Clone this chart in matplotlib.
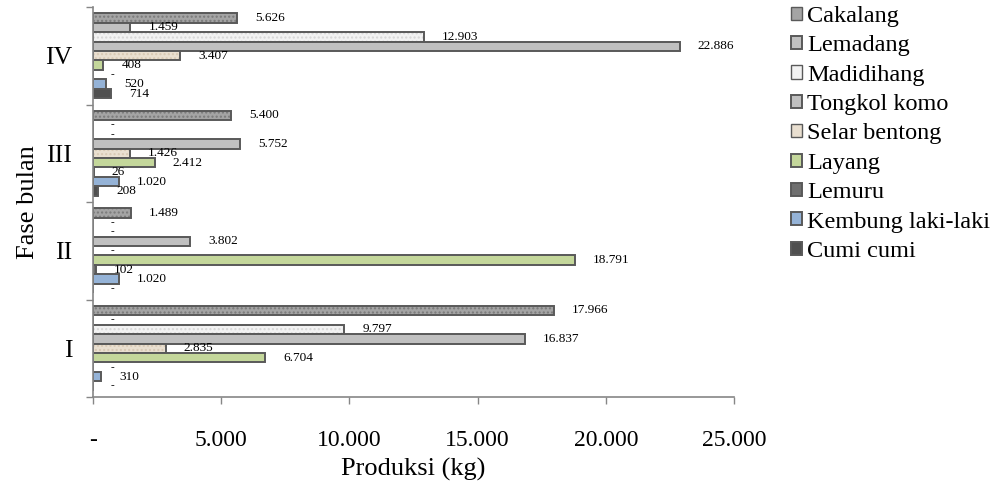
import matplotlib.pyplot as plt
import numpy as np

plt.rcParams["font.family"] = ["Liberation Serif", "DejaVu Serif"]

phases = ["I", "II", "III", "IV"]
species = ["Cakalang", "Lemadang", "Madidihang", "Tongkol komo", "Selar bentong",
           "Layang", "Lemuru", "Kembung laki-laki", "Cumi cumi"]

# produksi (kg) per fase bulan I..IV
cakalang = [17966, 1489, 5400, 5626]
lemadang = [0, 0, 0, 1459]
madidihang = [9797, 0, 0, 12903]
tongkol = [16837, 3802, 5752, 22886]
selar = [2835, 0, 1426, 3407]
layang = [6704, 18791, 2412, 408]
lemuru = [0, 102, 26, 0]
kembung = [310, 1020, 1020, 520]
cumi = [0, 0, 208, 714]

series = [cakalang, lemadang, madidihang, tongkol, selar, layang, lemuru, kembung, cumi]
colors = ["#a4a4a4", "#c0c0c0", "#f2f2f2", "#c0c0c0", "#e9dfd0",
          "#c4d79b", "#6f6f6f", "#95b3d7", "#4f4f4f"]
hatches = ["....", None, "....", None, "....", None, None, None, None]
hatch_cols = ["#7a7a7a", None, "#d6d6d6", None, "#d8c9b4", None, None, None, None]
edge = "#595959"

fig = plt.figure(figsize=(9.98, 4.83), dpi=100)
ax = fig.add_axes([0.0932, 0.178, 0.6423, 0.8075])

h = 0.097
y0 = np.arange(len(phases))
for i, (vals, name) in enumerate(zip(series, species)):
    ypos = y0 + (4 - i) * h
    if hatches[i]:
        ax.barh(ypos, vals, height=h, color=colors[i], edgecolor=hatch_cols[i],
                hatch=hatches[i], linewidth=0)
        ax.barh(ypos, vals, height=h, fill=False, edgecolor=edge, linewidth=1.4)
        ax.barh([-5], [0], color=colors[i], edgecolor=edge, label=name)
    else:
        ax.barh(ypos, vals, height=h, color=colors[i], edgecolor=edge,
                linewidth=1.4, label=name)
    for y, v in zip(ypos, vals):
        txt = "-" if v == 0 else f"{v:,}".replace(",", ".")
        ax.annotate(txt, (v, y), xytext=(18, 0), textcoords="offset pixels",
                    ha="left", va="center", fontsize=9.5 if v else 8)

ax.set_xlim(0, 25000)
ax.set_ylim(-0.5, 3.5)
ax.set_xticks([0, 5000, 10000, 15000, 20000, 25000])
ax.set_xticklabels(["-", "5.000", "10.000", "15.000", "20.000", "25.000"], fontsize=17)
ax.set_yticks(y0)
ax.set_yticklabels(phases, fontsize=18.5)
ax.set_yticks(np.arange(-0.5, 4, 1), minor=True)
ax.tick_params(axis="y", which="major", length=0, pad=15)
ax.tick_params(axis="y", which="minor", length=5, color="#868686", width=1)
ax.tick_params(axis="x", length=5, color="#868686", width=1, pad=19)

for s in ["top", "right"]:
    ax.spines[s].set_visible(False)
for s in ["left", "bottom"]:
    ax.spines[s].set_color("#868686")
    ax.spines[s].set_linewidth(1.2)

ax.set_xlabel("Produksi (kg)", fontsize=19, labelpad=5)
ax.set_ylabel("Fase bulan", fontsize=19, labelpad=4)

handles, labels = ax.get_legend_handles_labels()
fig.legend(handles, labels, loc="upper left", bbox_to_anchor=(0.783, 1.008),
           frameon=False, fontsize=17.5, handlelength=0.45, handleheight=0.45,
           handletextpad=0.2, labelspacing=0.345, borderaxespad=0)

fig.savefig("out.png", dpi=100)
